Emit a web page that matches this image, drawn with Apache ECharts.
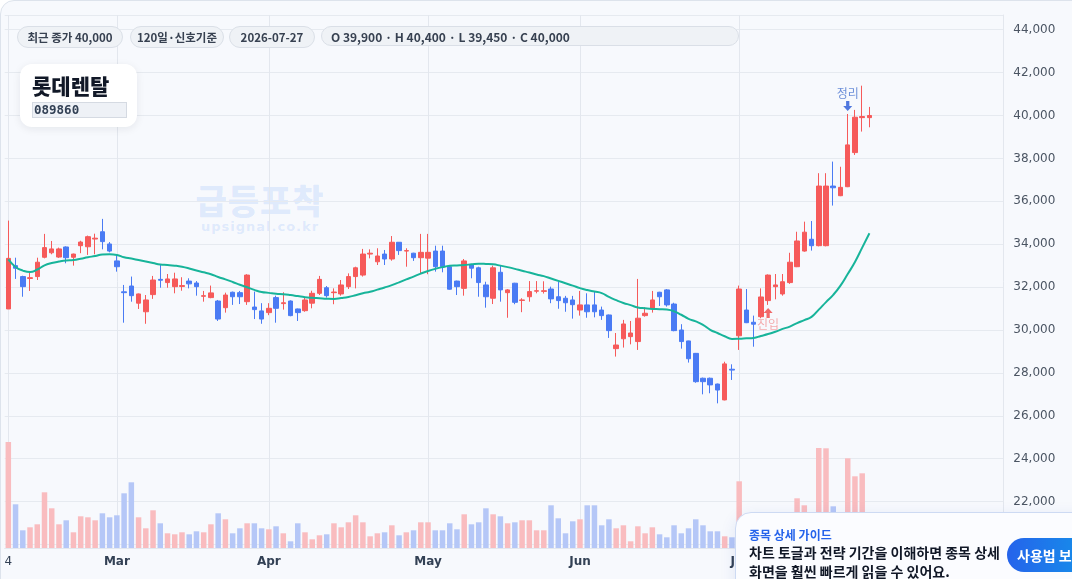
<!DOCTYPE html>
<html>
<head>
<meta charset="utf-8">
<script src="https://cdn.jsdelivr.net/npm/echarts@6/dist/echarts.min.js"></script>
<style>
body{margin:0;background:#fff;overflow:hidden;font-family:'Noto Sans CJK KR','DejaVu Sans',sans-serif}
#card{position:absolute;left:0;top:0;width:1100px;height:620px;border:1px solid #dde3ec;border-radius:14px;background:#f7f9fd}
#chart{position:absolute;left:0;top:0;width:1072px;height:579px}
.wm{position:absolute;left:150px;width:220px;text-align:center;color:rgba(59,130,246,0.14);font-weight:800}
.pill{position:absolute;top:26px;height:20px;line-height:20px;border:1px solid #dadfe7;border-radius:11px;background:#eff2f6;color:#374151;font-size:11.5px;font-weight:600;text-align:center}
#title{position:absolute;left:20px;top:64px;width:117px;height:63px;background:#fff;border-radius:12px;box-shadow:0 2px 8px rgba(15,23,42,0.08)}
#guide{position:absolute;left:735px;top:512px;width:420px;height:110px;background:#fbfcff;border:1px solid #cddaf3;border-radius:16px;box-shadow:0 4px 16px rgba(30,64,175,0.10)}
</style>
</head>
<body>
<div id="card"></div>
<div class="wm" style="top:175px;font-size:34px;letter-spacing:1px">급등포착</div>
<div class="wm" style="top:219px;font-size:13px;letter-spacing:1px;font-family:'DejaVu Sans',sans-serif">upsignal.co.kr</div>
<div id="chart"></div>
<div class="pill" style="left:17px;width:104px">최근 종가 40,000</div>
<div class="pill" style="left:130px;width:92px">120일·신호기준</div>
<div class="pill" style="left:229px;width:84px">2026-07-27</div>
<div class="pill" style="left:321px;width:418px;text-align:left;padding-left:9px;box-sizing:border-box;font-size:12px">O 39,900 · H 40,400 · L 39,450 · C 40,000</div>
<div id="title">
  <div style="position:absolute;left:12px;top:6px;font-size:21px;font-weight:800;color:#111827">롯데렌탈</div>
  <div style="position:absolute;left:12px;top:38px;width:92px;height:14px;background:#eef1f6;border:1px solid #d5dae2;font-family:'DejaVu Sans Mono',monospace;font-size:12.5px;line-height:14px;font-weight:600;color:#334155;padding-left:1px">089860</div>
</div>
<div id="guide">
  <div style="position:absolute;left:13px;top:13px;font-size:12px;font-weight:700;color:#2563eb">종목 상세 가이드</div>
  <div style="position:absolute;left:13px;top:30px;font-size:14px;font-weight:700;color:#111827;line-height:19px">차트 토글과 전략 기간을 이해하면 종목 상세<br>화면을 훨씬 빠르게 읽을 수 있어요.</div>
  <div style="position:absolute;left:271px;top:25px;width:120px;height:34px;border-radius:17px;background:linear-gradient(90deg,#2563eb,#0ea5e9);color:#fff;font-size:14px;font-weight:600;line-height:34px;padding-left:10px;box-sizing:border-box">사용법 보기</div>
</div>
<script>
// 거래일: 2026-02-04 ~ 2026-07-27 (주말, 설 연휴, 3/2 대체휴일 제외)
const holidays = ['2026-02-16', '2026-02-17', '2026-02-18', '2026-03-02'];
const tradeDays = [];
for (let t = Date.UTC(2026, 1, 4); t <= Date.UTC(2026, 6, 27); t += 86400000) {
    const d = new Date(t);
    const s = d.toISOString().slice(0, 10);
    if (d.getUTCDay() === 0 || d.getUTCDay() === 6 || holidays.indexOf(s) >= 0) continue;
    tradeDays.push(s);
}
const monthNames = ['Jan','Feb','Mar','Apr','May','Jun','Jul','Aug','Sep','Oct','Nov','Dec'];

const open = [30980,33000,32490,32400,32490,33390,33600,33400,33870,33390,33930,33880,34240,34580,34010,33220,31780,32050,31250,30850,
    31650,32360,32210,32020,32030,32280,32190,31570,31510,31350,31040,31760,31740,31320,31070,30890,30810,31510,31230,31350,
    30980,30900,31250,31710,31970,31740,31680,32020,32490,32560,33540,33180,33540,33310,34090,33680,33580,33370,33350,33680,
    33680,32950,32280,31940,33030,32900,32100,31480,32690,31740,32180,31380,31550,31810,31800,31910,31550,31480,31400,30930,
    31170,31170,30930,30700,29130,29590,29690,29460,30670,31010,31760,31870,31210,30000,29490,28910,27750,27750,27480,26740,
    28170,29730,30930,30360,30620,31370,32020,31680,32210,32950,33680,34230,33930,33930,36710,36260,36680,38270,39900,39900];
const high = [35100,33370,32530,32720,33370,34480,34150,33840,33900,33560,34160,34400,34490,35180,34100,33460,32100,32490,31700,31630,
    32520,33030,32610,32670,32460,32410,32280,31820,32070,31400,31740,31790,31820,32600,31790,31250,31250,31600,31760,31380,
    31000,31510,31830,32520,32050,31940,32330,32640,32950,33780,33760,33810,33730,34380,34100,33810,33600,34480,34480,33930,
    33930,33000,32300,33310,33060,32950,32250,33000,33030,31910,32200,31480,32280,32280,32270,32020,32250,31590,31590,31820,
    31710,31790,31090,30720,29860,30470,30420,32380,31060,31820,31780,31910,31270,30270,29500,28930,27780,27780,27500,28520,
    28400,32070,31910,30670,31940,32590,32610,32610,33600,34580,35050,35080,37310,37310,37850,37610,40070,40260,41390,40400];
const low = [30980,32380,31550,31820,32330,33340,33530,33360,33110,33000,33580,33500,33530,33760,33620,32720,30340,31320,30980,30290,
    31450,31970,31970,31710,31830,31940,31600,31320,31480,30420,30810,31170,31210,31170,30510,30290,30690,30340,30950,30640,
    30420,30850,31010,31630,31510,31200,31600,31910,31940,32490,33340,33030,33030,33230,33500,32950,33220,32640,32600,32720,
    32690,31880,31630,31600,32410,31550,31040,31210,31320,30570,31200,30830,31320,31710,31700,31250,30990,30850,30530,30670,
    30570,30590,30470,29630,28760,29180,29330,29070,30620,30810,31120,31090,29940,29130,28480,27540,27000,27050,26580,26720,
    27670,29070,30320,29220,30550,31170,31430,31600,32150,32930,33650,33700,33900,33900,35800,36240,36660,38160,39250,39450];
const close = [33340,32880,32020,32440,33160,33840,33780,33780,33370,33540,34100,34350,34280,34120,33680,32950,31740,31600,31680,31400,
    32330,32320,32380,32380,32070,32150,32020,31600,31730,30510,31630,31550,31550,32560,30950,30510,31010,31010,31270,30670,
    30810,31400,31710,32360,31600,31770,32100,32490,32900,33540,33580,33450,33310,34090,33700,33700,33370,33620,33620,32950,
    32950,31900,32020,33220,32880,32210,31550,32900,31870,31870,31290,31400,31790,31830,31830,31450,31370,31270,31180,31170,
    30850,30850,30670,29970,29300,30280,29860,30550,30780,31400,31550,31170,29970,29460,28660,27590,27590,27440,27200,28420,
    28130,31910,30340,30270,31540,32560,32100,32250,33160,34150,34560,33930,36710,36710,36630,36650,38630,39920,39950,40000];
const ma = [33290,32940,32770,32700,32820,33010,33120,33190,33240,33260,33320,33390,33450,33520,33530,33500,33390,33330,33260,33190,
    33120,33050,33030,33000,32950,32870,32770,32690,32600,32470,32360,32240,32110,31990,31870,31770,31730,31690,31670,31630,
    31580,31530,31500,31480,31460,31450,31490,31540,31620,31710,31780,31880,31980,32090,32220,32360,32490,32630,32750,32850,
    32930,32990,33010,33030,33060,33090,33080,33060,33000,32930,32850,32760,32680,32590,32510,32400,32290,32180,32070,31950,
    31860,31790,31720,31540,31390,31260,31160,31050,31010,30980,30970,30950,30870,30710,30520,30400,30240,30010,29860,29710,
    29580,29590,29610,29630,29720,29810,29920,30050,30160,30320,30460,30610,30950,31300,31640,32070,32610,33170,33840,34510];
const volume = [1060000,437000,177000,207000,237000,557000,397000,237000,277000,157000,317000,307000,277000,347000,307000,327000,547000,657000,307000,197000,
    377000,247000,147000,137000,157000,137000,167000,157000,237000,347000,287000,147000,197000,247000,247000,197000,187000,217000,147000,67000,
    247000,157000,87000,127000,137000,247000,207000,257000,327000,257000,117000,147000,157000,227000,127000,157000,177000,257000,257000,177000,
    177000,247000,187000,337000,237000,257000,397000,337000,317000,247000,257000,277000,277000,177000,177000,427000,297000,147000,267000,287000,
    427000,427000,227000,287000,197000,227000,67000,217000,147000,207000,137000,107000,227000,147000,197000,287000,227000,167000,167000,117000,
    107000,667000,300000,220000,280000,320000,200000,240000,310000,497000,427000,280000,1000000,997000,417000,300000,897000,717000,747000,250000];
const entryIdx = 105;
const exitIdx = 116;

const N = tradeDays.length;
const padCount = 18;
const axisDays = tradeDays.concat(Array.from({length: padCount}, (_, i) => 'pad' + i));

const upColor = '#f65a5a';
const downColor = '#4a7bf4';

function monthStart(index, value) {
    if (index >= N) return false;
    return index === 0 || value.slice(5, 7) !== tradeDays[index - 1].slice(5, 7);
}

const chart = echarts.init(document.getElementById('chart'), null, {renderer: 'canvas'});

const option = {
    animation: false,
    backgroundColor: 'transparent',
    textStyle: {fontFamily: "'DejaVu Sans', 'Noto Sans CJK KR', sans-serif"},
    grid: [
        {left: 4.7, right: 68.7, top: 15, bottom: 31, outerBoundsMode: 'none'},
        {left: 4.7, right: 68.7, top: 438, bottom: 31, outerBoundsMode: 'none'}
    ],
    xAxis: [
        {
            type: 'category', gridIndex: 0, data: axisDays, boundaryGap: true,
            axisLine: {show: false}, axisTick: {show: false}, axisLabel: {show: false},
            splitLine: {show: true, interval: monthStart, alignWithLabel: true, lineStyle: {color: '#e3e7ee', width: 1}}
        },
        {
            type: 'category', gridIndex: 1, data: axisDays, boundaryGap: true,
            axisLine: {show: true, lineStyle: {color: '#e3e7ee'}},
            axisTick: {show: false},
            splitLine: {show: false},
            axisLabel: {
                interval: monthStart,
                margin: 8,
                color: '#334155',
                fontSize: 12,
                formatter: function (val, idx) {
                    if (idx >= N) return '';
                    const d = new Date(val + 'T00:00:00Z');
                    if (idx === 0) return String(d.getUTCDate());
                    return '{m|' + monthNames[d.getUTCMonth()] + '}';
                },
                rich: {m: {fontWeight: 'bold', fontSize: 12, color: '#334155'}}
            }
        }
    ],
    yAxis: [
        {
            type: 'value', gridIndex: 0, position: 'right',
            min: 19836, max: 44685, splitNumber: 12,
            axisLine: {show: true, lineStyle: {color: '#e3e7ee'}},
            axisTick: {show: false},
            splitLine: {lineStyle: {color: '#e6eaf0'}},
            axisLabel: {
                color: '#4b5563', fontSize: 12, margin: 10,
                showMinLabel: false, showMaxLabel: false,
                formatter: v => v.toLocaleString('en-US')
            }
        },
        {type: 'value', gridIndex: 1, min: 0, max: 1100000, show: false}
    ],
    series: [
        {
            name: '거래량', type: 'bar', xAxisIndex: 1, yAxisIndex: 1, barWidth: 5.5, z: 1,
            data: volume.map((v, i) => ({
                value: v,
                itemStyle: {color: close[i] >= open[i] ? '#f9bcbf' : '#b5c7f7'}
            }))
        },
        {
            name: '캔들', type: 'candlestick', xAxisIndex: 0, yAxisIndex: 0, barWidth: 5, z: 3,
            data: tradeDays.map((d, i) => [open[i], close[i], low[i], high[i]]),
            itemStyle: {color: upColor, color0: downColor, borderColor: upColor, borderColor0: downColor, borderWidth: 1}
        },
        {
            name: 'MA20', type: 'line', xAxisIndex: 0, yAxisIndex: 0, data: ma, smooth: true,
            symbol: 'none', z: 4, lineStyle: {color: '#17b49a', width: 2}
        },
        {
            name: '진입', type: 'scatter', xAxisIndex: 0, yAxisIndex: 0, z: 5,
            symbol: 'path://M5 0 L10 5 L6.8 5 L6.8 10 L3.2 10 L3.2 5 L0 5 Z',
            symbolSize: [9, 10], symbolOffset: [0, 8],
            itemStyle: {color: '#ef4444'},
            label: {show: true, position: 'bottom', distance: 1, formatter: '진입', fontSize: 12,
                color: 'rgba(240,82,82,0.6)', fontFamily: 'Noto Sans CJK KR'},
            data: [[tradeDays[entryIdx], low[entryIdx]]]
        },
        {
            name: '정리', type: 'scatter', xAxisIndex: 0, yAxisIndex: 0, z: 5,
            symbol: 'path://M3.2 0 L6.8 0 L6.8 5 L10 5 L5 10 L0 5 L3.2 5 Z',
            symbolSize: [9, 10], symbolOffset: [0, -8],
            itemStyle: {color: '#2556d6'},
            label: {show: true, position: 'top', distance: 2, formatter: '정리', fontSize: 12,
                color: '#4a74d0', fontFamily: 'Noto Sans CJK KR'},
            data: [[tradeDays[exitIdx], high[exitIdx]]]
        }
    ]
};

chart.setOption(option);
</script>
</body>
</html>
